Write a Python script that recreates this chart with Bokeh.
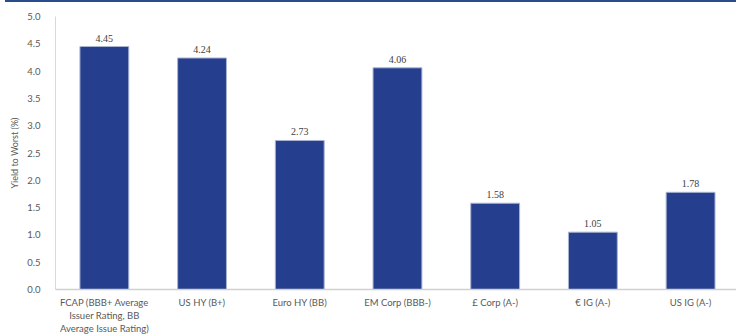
from bokeh.plotting import figure
from bokeh.models import ColumnDataSource, Range1d, FixedTicker, LabelSet, Div, NumeralTickFormatter
from bokeh.layouts import column
from bokeh.embed import file_html
from bokeh.resources import INLINE

# Yield to worst by segment
categories = [
    "FCAP (BBB+ Average\nIssuer Rating, BB\nAverage Issue Rating)",
    "US HY (B+)",
    "Euro HY (BB)",
    "EM Corp (BBB-)",
    "£ Corp (A-)",
    "€ IG (A-)",
    "US IG (A-)",
]
yields = [4.45, 4.24, 2.73, 4.06, 1.58, 1.05, 1.78]
y_ticks = [0.0, 0.5, 1.0, 1.5, 2.0, 2.5, 3.0, 3.5, 4.0, 4.5, 5.0]

FONT = "Lato"
BAR = "#253f8e"
TEXT = "#595959"

idx = list(range(len(categories)))
src = ColumnDataSource(dict(
    x=idx,
    y=yields,
    label=[f"{v:.2f}" for v in yields],
))

p = figure(
    width=736, height=334,
    output_backend="svg", toolbar_location=None,
    x_range=Range1d(-0.5, 6.47), y_range=Range1d(0, 5.0),
    min_border_left=55, min_border_right=0, min_border_top=14, min_border_bottom=44,
    background_fill_color="white", border_fill_color="white",
)
p.outline_line_color = None
p.grid.visible = False

p.vbar(x="x", top="y", width=0.5, source=src,
       fill_color=BAR, line_color="#aab4d2", line_width=1)

p.add_layout(LabelSet(x="x", y="y", text="label", source=src,
                      text_align="center", text_baseline="bottom", y_offset=5,
                      text_font=FONT, text_font_size="10px", text_color="#404040"))

# x axis with category names
p.xaxis.ticker = FixedTicker(ticks=idx)
p.xaxis.major_label_overrides = {i: c for i, c in zip(idx, categories)}
p.xaxis.major_tick_line_color = None
p.xaxis.minor_tick_line_color = None
p.xaxis.axis_line_color = "#d0d0d0"
p.xaxis.axis_line_width = 1.5
p.xaxis.major_label_text_font = FONT
p.xaxis.major_label_text_font_size = "9.5px"
p.xaxis.major_label_text_color = TEXT
p.xaxis.major_label_standoff = 1

# y axis
p.yaxis.ticker = FixedTicker(ticks=y_ticks)
p.yaxis.formatter = NumeralTickFormatter(format="0.0")
p.yaxis.major_tick_line_color = None
p.yaxis.minor_tick_line_color = None
p.yaxis.axis_line_color = "#d9d9d9"
p.yaxis.axis_line_width = 1
p.yaxis.major_label_text_font = FONT
p.yaxis.major_label_text_font_size = "9.5px"
p.yaxis.major_label_text_color = TEXT
p.yaxis.major_label_standoff = 9
p.yaxis.axis_label = "Yield to Worst (%)"
p.yaxis.axis_label_text_font = FONT
p.yaxis.axis_label_text_font_size = "9px"
p.yaxis.axis_label_text_font_style = "normal"
p.yaxis.axis_label_text_color = TEXT
p.yaxis.axis_label_standoff = 4

# thin rule across the top of the page
rule = Div(text="", width=731, height=2, margin=(0, 0, 0, 5),
           styles={"border-top": "2px solid #2b4c8c", "box-sizing": "border-box"})

layout = column(rule, p, spacing=0, margin=0)

open("out.html", "w").write(file_html(layout, INLINE))
